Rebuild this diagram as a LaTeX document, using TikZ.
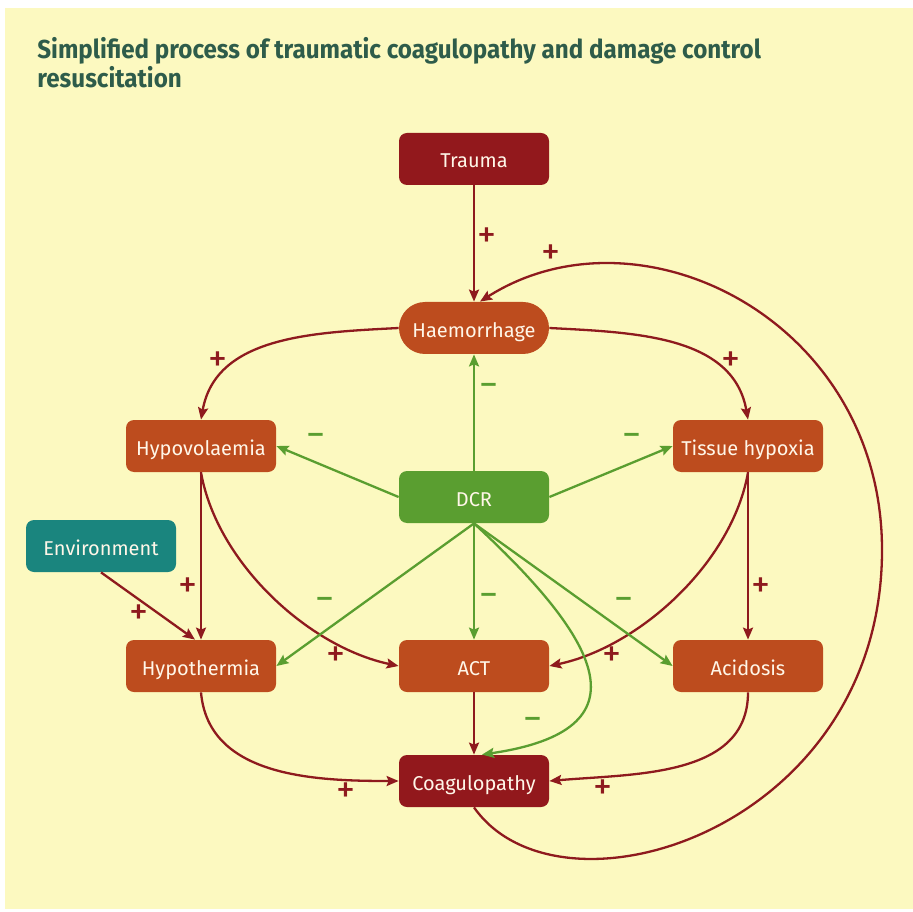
\documentclass[tikz,border=0pt]{standalone}
\usepackage{fontspec}
\setmainfont{Fira Sans}
\newfontfamily\titlefont[FakeStretch=0.93]{Fira Sans}
\usetikzlibrary{arrows.meta}

\definecolor{bgyellow}{HTML}{FCF9C0}
\definecolor{darkred}{HTML}{92181C}
\definecolor{rust}{HTML}{BD4C1E}
\definecolor{dcrgreen}{HTML}{5A9E30}
\definecolor{envteal}{HTML}{1A857E}
\definecolor{linered}{HTML}{8E1A1E}
\definecolor{titlegreen}{HTML}{2E5C4A}
\definecolor{boxtext}{HTML}{FFF6E8}

\tikzset{
  nodebox/.style={rectangle, rounded corners=4pt, minimum width=75pt,
    minimum height=26pt, inner sep=0pt, text=boxtext,
    text height=9.5pt, text depth=0.5pt,
    font=\fontsize{10}{12}\selectfont},
  rustbox/.style={nodebox, fill=rust},
  redbox/.style={nodebox, fill=darkred},
  greenbox/.style={nodebox, fill=dcrgreen},
  tealbox/.style={nodebox, fill=envteal},
  pillbox/.style={nodebox, fill=rust, rounded corners=13pt},
  redarrow/.style={draw=linered, line width=1.15pt,
    -{Stealth[length=6pt,width=5pt,inset=1pt]}},
  greenarrow/.style={draw=dcrgreen, line width=1.15pt,
    -{Stealth[length=6pt,width=5pt,inset=1pt]}},
  pluslbl/.style={text=linered, inner sep=0pt, minimum size=6pt,
    font=\fontsize{19}{19}\selectfont},
  minuslbl/.style={text=dcrgreen, inner sep=0pt, minimum size=6pt,
    font=\fontsize{19}{19}\selectfont}
}

\begin{document}
\begin{tikzpicture}[x=0.5pt,y=0.5pt]
  \useasboundingbox (0,0) rectangle (913,911);
  \fill[bgyellow] (5,2) rectangle (913,903);
  \node[anchor=north west, inner sep=0pt, align=left, text=titlegreen,
    font=\titlefont\bfseries\fontsize{13}{14.5}\selectfont] (title) at (37,874)
    {Simplified process of traumatic coagulopathy and damage control\\resuscitation};

  \draw
    (474,752) node[redbox] (trauma) {Trauma}
    (474,583) node[pillbox] (haem) {Haemorrhage}
    (201,465) node[rustbox] (hypovol) {Hypovolaemia}
    (748,465) node[rustbox] (tissue) {Tissue hypoxia}
    (474,414) node[greenbox] (dcr) {DCR}
    (101,365) node[tealbox] (env) {Environment}
    (201,245) node[rustbox] (hypot) {Hypothermia}
    (474,245) node[rustbox] (act) {ACT}
    (748,245) node[rustbox] (acid) {Acidosis}
    (474,130) node[redbox] (coag) {Coagulopathy};

  \begin{scope}[redarrow]
    \draw (trauma) to node[pluslbl, pos=0.45, right=1pt] {+} (haem);
    \draw (coag.south) .. controls (560,-19) and (882,81) .. (882,361)
      .. controls (882,591) and (640,711) .. ([xshift=3pt]haem.north)
      node[pluslbl, pos=0.86, above=3pt] {+};
    \draw (haem.west) to[out=183, in=80]
      node[pluslbl, pos=0.75, above left=-1pt] {+} (hypovol.north);
    \draw (haem.east) to[out=-3, in=100]
      node[pluslbl, pos=0.75, above right=-1pt] {+} (tissue.north);
    \draw (hypovol) to node[pluslbl, pos=0.69, left=1pt] {+} (hypot);
    \draw (hypovol.south) to[out=-80, in=168, looseness=0.85]
      node[pluslbl, pos=0.8, below left=-1pt] {+} (act.west);
    \draw (env.south) to node[pluslbl, pos=0.5, below left=-1pt] {+}
      ([xshift=-3pt]hypot.north);
    \draw (tissue.south) to[out=-100, in=12, looseness=0.85]
      node[pluslbl, pos=0.8, below right=-1pt] {+} (act.east);
    \draw (tissue) to node[pluslbl, pos=0.69, right=1pt] {+} (acid);
    \draw (hypot.south) to[out=-85, in=180]
      node[pluslbl, pos=0.8, below=1pt] {+} (coag.west);
    \draw (act) to (coag);
    \draw (acid.south) to[out=-90, in=5]
      node[pluslbl, pos=0.8, below=1pt] {+} (coag.east);
  \end{scope}

  \begin{scope}[greenarrow]
    \draw (dcr) to node[minuslbl, pos=0.69, right=2pt] {−} (haem);
    \draw (dcr.west) to node[minuslbl, pos=0.68, above=7pt] {−} (hypovol.east);
    \draw (dcr.east) to node[minuslbl, pos=0.67, above=7pt] {−} (tissue.west);
    \draw (dcr.south) to node[minuslbl, pos=0.67, above left=3pt] {−} (hypot.east);
    \draw (dcr) to node[minuslbl, pos=0.66, right=2pt] {−} (act);
    \draw (dcr.south) to node[minuslbl, pos=0.67, above right=3pt] {−} (acid.west);
    \draw (dcr.south) .. controls (600,271) and (650,181) .. ([xshift=4pt]coag.north)
      node[minuslbl, pos=0.88, above=5pt] {−};
  \end{scope}
\end{tikzpicture}
\end{document}
